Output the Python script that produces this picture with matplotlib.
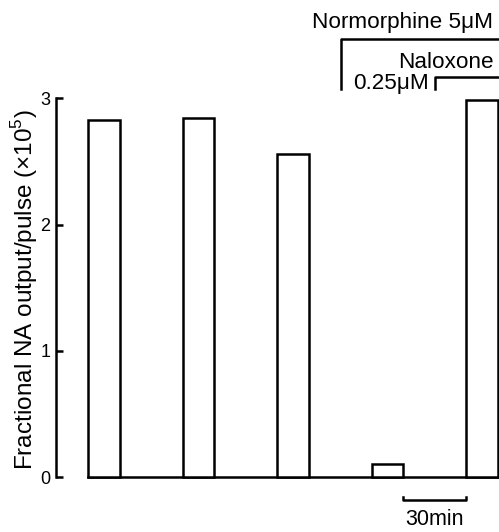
import numpy as np
import matplotlib.pyplot as plt

plt.rcParams['font.family'] = ['Liberation Sans', 'DejaVu Sans']
plt.rcParams['mathtext.fontset'] = 'custom'
plt.rcParams['mathtext.rm'] = 'Liberation Sans'

# collection times (min) and fractional NA output per pulse (x10^5)
times = [0, 45, 90, 135, 180]
output = [2.83, 2.84, 2.56, 0.10, 2.99]
bar_width = 15  # min
yticks = [0, 1, 2, 3]
ylabel = "Fractional NA output/pulse (×10$^5$)"
scale_min = 30

fig = plt.figure(figsize=(4.99, 5.32), dpi=100)
ax = fig.add_axes([0, 0, 1, 1])
ax.set_xlim(-49.5, 188.1)
ax.set_ylim(-0.435, 3.778)
ax.patch.set_visible(False)

ax.bar(times, output, width=bar_width, facecolor="white", edgecolor="black",
       linewidth=1.8, clip_on=False, zorder=3)

# axes: only left spine from 0 to 3 and a baseline under the bars
for s in ["top", "right"]:
    ax.spines[s].set_visible(False)
ax.spines["left"].set_position(("data", -22.9))
ax.spines["left"].set_bounds(0, 3)
ax.spines["left"].set_linewidth(1.8)
ax.spines["bottom"].set_position(("data", 0))
ax.spines["bottom"].set_bounds(times[0] - bar_width / 2, times[-1] + bar_width / 2)
ax.spines["bottom"].set_linewidth(1.8)
ax.set_xticks([])
ax.set_yticks(yticks)
ax.set_yticklabels([str(t) for t in yticks])
ax.tick_params(axis="y", direction="in", length=5, width=1.8, pad=4, labelsize=13)

fig.text(25 / 499, 1 - 290 / 532, ylabel, rotation=90, ha="center", va="center",
         fontsize=17.5)

# 30 min scale bar between the last two bars
x0 = times[3] + bar_width / 2
x1 = x0 + scale_min
ax.plot([x0, x0, x1, x1], [-0.16, -0.185, -0.185, -0.16], color="black", lw=1.8,
        clip_on=False)
ax.text((x0 + x1) / 2, -0.38, "%dmin" % scale_min, ha="center", va="baseline",
        fontsize=15.5)

# drug application brackets
ax.plot([113.1, 113.1, 190], [3.07, 3.47, 3.47], color="black", lw=1.8, clip_on=False)
ax.plot([157.6, 157.6, 190], [3.07, 3.17, 3.17], color="black", lw=1.8, clip_on=False)
ax.text(185.2, 3.56, "Normorphine 5μM", ha="right", va="baseline", fontsize=16.2)
ax.text(185.7, 3.24, "Naloxone", ha="right", va="baseline", fontsize=16.2)
ax.text(118.6, 3.07, "0.25μM", ha="left", va="baseline", fontsize=16.2)

fig.savefig("out.png", dpi=100)
